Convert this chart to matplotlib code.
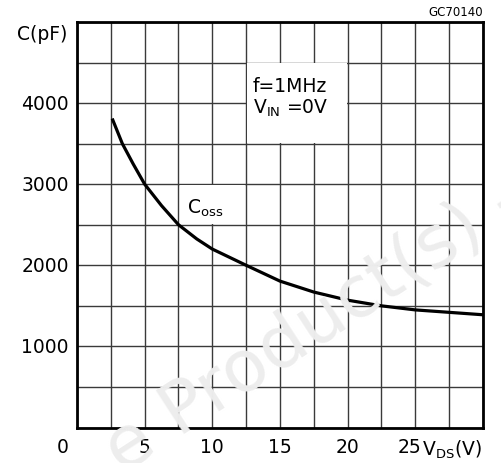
import numpy as np
import matplotlib
matplotlib.use("Agg")
import matplotlib.pyplot as plt
from matplotlib.patches import Rectangle

# Coss vs VDS (f = 1 MHz, VIN = 0 V)
vds = [2.6, 3.35, 4.15, 5.0, 6.25, 7.5, 8.85, 10.0, 12.5, 15.0, 17.5,
       20.0, 22.5, 25.0, 27.5, 30.0]
coss = [3810, 3500, 3250, 3000, 2735, 2500, 2325, 2200, 2000, 1805, 1670,
        1570, 1500, 1450, 1420, 1390]

xtick_vals = [5, 10, 15, 20]
ytick_vals = [1000, 2000, 3000, 4000]

W, H = 502, 464
fig = plt.figure(figsize=(W / 100, H / 100), dpi=100)
ax = fig.add_axes([77 / W, 1 - 428.5 / H, (483 - 77) / W, (428.5 - 23) / H])

ax.set_xlim(0, 30)
ax.set_ylim(0, 5000)

# grid every 2.5 V / 500 pF
ax.set_xticks(np.arange(0, 30.1, 2.5))
ax.set_yticks(np.arange(0, 5001, 500))
ax.grid(True, color="#3a3a3a", linewidth=1.0, zorder=1)
ax.tick_params(length=0, labelbottom=False, labelleft=False)
for s in ax.spines.values():
    s.set_linewidth(2.0)
    s.set_zorder(5)

# white label areas (grid removed inside)
ax.add_patch(Rectangle((12.58, 3510), 7.34, 980, facecolor="white",
                       edgecolor="none", zorder=2))
ax.add_patch(Rectangle((7.58, 2510), 4.84, 480, facecolor="white",
                       edgecolor="none", zorder=2))

ax.plot(vds, coss, color="black", linewidth=2.3, zorder=3,
        solid_capstyle="butt", solid_joinstyle="round")

fs = 13.5
for v in ytick_vals:
    ax.text(-0.6, v, f"{v}", ha="right", va="center", fontsize=fs,
            clip_on=False)
for v in xtick_vals:
    ax.text(v, -120, f"{v}", ha="center", va="top", fontsize=fs,
            clip_on=False)
ax.text(-1.05, -120, "0", ha="center", va="top", fontsize=fs, clip_on=False)
ax.text(24.6, -120, "25", ha="center", va="top", fontsize=fs, clip_on=False)
ax.text(25.5, -120, "V$_{\\mathregular{DS}}$(V)", ha="left", va="top",
        fontsize=fs, clip_on=False)

fig.text(67 / W, 1 - 34 / H, "C(pF)", ha="right", va="center", fontsize=fs)
fig.text(483 / W, 1 - 13 / H, "GC70140", ha="right", va="center", fontsize=8.5)

ax.text(13.0, 4150, "f=1MHz", ha="left", va="baseline", fontsize=13.5, zorder=4)
ax.text(13.0, 3880, "V$_{\\mathregular{IN}}$ =0V", ha="left", va="baseline",
        fontsize=13.5, zorder=4)
ax.text(8.1, 2650, "C$_{\\mathregular{oss}}$", ha="left", va="baseline",
        fontsize=13.5, zorder=4)

# faint watermark
fig.text(325 / W, 1 - 342 / H, "e Product(s) -", rotation=33,
         rotation_mode="anchor", ha="center", va="baseline", fontsize=52,
         color="#ededed", zorder=10)

fig.savefig("out.png", dpi=100)
